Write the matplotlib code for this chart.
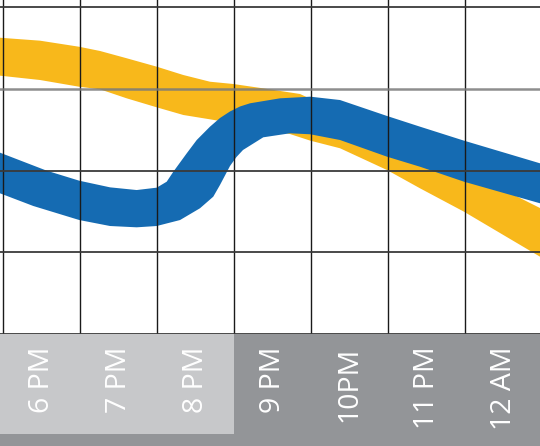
import numpy as np
import matplotlib.pyplot as plt

plt.rcParams['font.family'] = ['Open Sans', 'DejaVu Sans']

# horas (24h) y niveles
horas = [18, 19, 20, 21, 22, 23, 24]
etiquetas = ['6 PM', '7 PM', '8 PM', '9 PM', '10PM', '11 PM', '12 AM']

# banda azul: borde superior e inferior
azul_sup_x = [17.461, 18.067, 18.491, 18.890, 19.236, 19.496, 19.626, 19.712, 19.886,
              20.016, 20.188, 20.318, 20.448, 20.578, 20.708, 21.097, 21.491, 21.877,
              22.487, 22.916, 23.487, 24.474]
azul_sup_y = [2.218, 1.998, 1.875, 1.794, 1.761, 1.790, 1.863, 1.985, 2.210,
              2.373, 2.536, 2.642, 2.722, 2.783, 2.822, 2.883, 2.903, 2.862,
              2.667, 2.536, 2.365, 2.088]
azul_inf_x = [17.461, 17.893, 18.491, 18.890, 19.236, 19.496, 19.799, 20.058, 20.231,
              20.318, 20.448, 20.532, 20.617, 20.880, 21.227, 21.491, 21.877, 22.487,
              22.916, 23.487, 24.474]
azul_inf_y = [1.721, 1.566, 1.394, 1.321, 1.305, 1.321, 1.394, 1.538, 1.680,
              1.823, 2.055, 2.165, 2.251, 2.406, 2.455, 2.443, 2.373, 2.169,
              2.046, 1.863, 1.599]

# banda amarilla
amarillo_sup_x = [17.461, 17.981, 18.487, 18.760, 19.106, 19.496, 19.842, 20.188, 20.491,
                  20.877, 21.357, 21.747, 22.487, 22.916, 23.487, 23.955, 24.474]
amarillo_sup_y = [3.624, 3.588, 3.514, 3.462, 3.373, 3.270, 3.168, 3.086, 3.058,
                  3.005, 2.936, 2.765, 2.495, 2.275, 1.994, 1.786, 1.541]
amarillo_inf_x = [17.461, 17.981, 18.487, 18.760, 19.106, 19.496, 19.842, 20.188, 20.708,
                  21.227, 21.491, 21.877, 22.487, 22.916, 23.487, 24.474]
amarillo_inf_y = [3.160, 3.107, 3.025, 2.993, 2.883, 2.773, 2.679, 2.626, 2.544,
                  2.446, 2.365, 2.272, 2.006, 1.782, 1.496, 0.946]

fig = plt.figure(figsize=(5.4, 4.46), dpi=100)

# grafica principal
ax = fig.add_axes([0, 112 / 446, 1, 334 / 446])
ax.set_xlim(17.461, 24.474)
ax.set_ylim(0, 334 / 81.75)
ax.axis('off')

ax.fill(np.concatenate([amarillo_sup_x, amarillo_inf_x[::-1]]),
        np.concatenate([amarillo_sup_y, amarillo_inf_y[::-1]]),
        color='#F8B81B', lw=0, zorder=1)
ax.fill(np.concatenate([azul_sup_x, azul_inf_x[::-1]]),
        np.concatenate([azul_sup_y, azul_inf_y[::-1]]),
        color='#156BB2', lw=0, zorder=2)

# cuadricula encima de las bandas
for h in horas:
    ax.axvline(h - 0.5, color='#1a1a1a', lw=1.0, zorder=3)
for nivel in [0, 1, 2, 4]:
    ax.axhline(nivel, color='#3a3a3a', lw=1.3, zorder=3, clip_on=False)
ax.axhline(3, color='#7a7a7a', lw=1.8, alpha=0.85, zorder=3)

# franja inferior con las horas
bx = fig.add_axes([0, 0, 1, 112 / 446])
bx.set_xlim(17.461, 24.474)
bx.set_ylim(0, 1)
bx.set_facecolor('#939598')
for s in bx.spines.values():
    s.set_visible(False)
bx.set_xticks([])
bx.set_yticks([])
bx.axvspan(17.461, 20.5, ymin=12 / 112, ymax=1, color='#C7C8CA', lw=0)

for h, txt in zip(horas, etiquetas):
    bx.text(h, 0.89, txt, rotation=90, ha='center', va='top',
            color='white', fontsize=20.5)

fig.savefig('out.png', dpi=100)
